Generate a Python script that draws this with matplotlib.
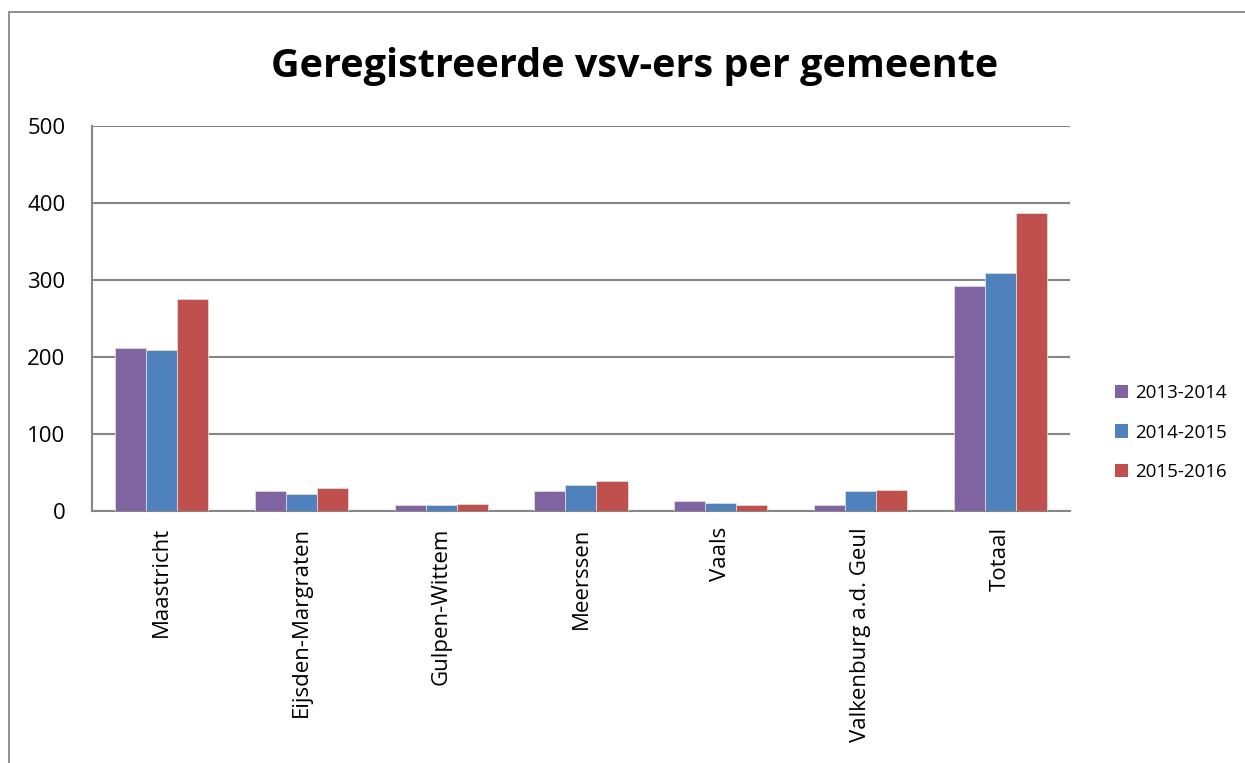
import matplotlib
matplotlib.use("Agg")
import matplotlib.pyplot as plt
from matplotlib.patches import Rectangle, Patch
import numpy as np

gemeenten = [
    "Maastricht",
    "Eijsden-Margraten",
    "Gulpen-Wittem",
    "Meerssen",
    "Vaals",
    "Valkenburg a.d. Geul",
    "Totaal",
]
jaren = ["2013-2014", "2014-2015", "2015-2016"]
v_2013_2014 = [211, 26, 7, 25, 12, 7, 291]
v_2014_2015 = [208, 22, 7, 33, 10, 26, 308]
v_2015_2016 = [275, 29, 9, 38, 7, 27, 386]
kleuren = ["#8064A2", "#4F81BD", "#C0504D"]

plt.rcParams["font.family"] = ["Open Sans", "DejaVu Sans"]

fig = plt.figure(figsize=(12.45, 7.63), dpi=100)
ax = fig.add_axes([0.0739, 0.3309, 0.7855, 0.5046])

# outer chart border (cut off at right and bottom like the screenshot)
fig.patches.append(
    Rectangle((9 / 1245, -0.05), 1.2, 1.05 - 12 / 763,
              transform=fig.transFigure, fill=False,
              edgecolor="#878787", linewidth=1.3, zorder=0)
)

x = np.arange(len(gemeenten))
w = 0.222
series = [v_2013_2014, v_2014_2015, v_2015_2016]
for i, (vals, kl) in enumerate(zip(series, kleuren)):
    ax.bar(x + (i - 1) * w, vals, width=w, color=kl,
           edgecolor="#dcdcdc", linewidth=0.6, zorder=3)

ax.set_xlim(-0.5, len(gemeenten) - 0.5)
ax.set_ylim(0, 500)
ax.set_yticks(range(0, 501, 100))
ax.grid(axis="y", color="#868686", linewidth=1.5, zorder=1)
ax.set_axisbelow(True)

for s in ["top", "right"]:
    ax.spines[s].set_visible(False)
for s in ["left", "bottom"]:
    ax.spines[s].set_color("#868686")
    ax.spines[s].set_linewidth(1.5)

ax.tick_params(axis="both", length=0, labelsize=16)
ax.tick_params(axis="y", pad=19)
ax.set_xticks(x)
ax.set_xticklabels(gemeenten, rotation=90, fontsize=16)
ax.tick_params(axis="x", pad=12)

fig.text(0.51, 0.913, "Geregistreerde vsv-ers per gemeente",
         ha="center", va="center", fontsize=28.5, fontweight="bold")

handles = [Patch(facecolor=k, edgecolor="none") for k in kleuren]
fig.legend(handles, jaren, loc="center left", bbox_to_anchor=(0.882, 0.433),
           frameon=False, fontsize=13.5, handlelength=0.7, handleheight=0.7,
           handletextpad=0.4, labelspacing=1.15)

fig.savefig("out.png", dpi=100)
